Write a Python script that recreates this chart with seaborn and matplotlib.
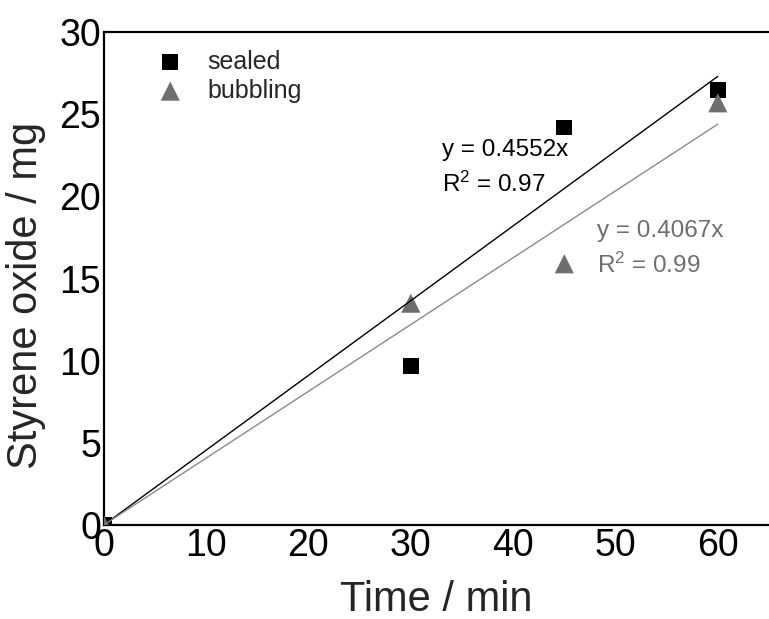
import matplotlib
matplotlib.use("Agg")
import matplotlib.pyplot as plt
import seaborn as sns
import pandas as pd
import numpy as np

time_min = [0, 30, 45, 60]
sealed = [0.0, 9.7, 24.2, 26.5]
bubbling = [0.0, 13.5, 15.9, 25.7]
slope_sealed = 0.4552
slope_bubbling = 0.4067
r2_sealed = 0.97
r2_bubbling = 0.99
x_ticks = [0, 10, 20, 30, 40, 50, 60]
y_ticks = [0, 5, 10, 15, 20, 25, 30]

sns.set_style("white")
plt.rcParams['font.family'] = ['Liberation Sans', 'DejaVu Sans']
plt.rcParams['mathtext.fontset'] = 'custom'
plt.rcParams['mathtext.rm'] = 'Liberation Sans'
plt.rcParams['mathtext.it'] = 'Liberation Sans'
plt.rcParams['mathtext.default'] = 'regular'

df = pd.DataFrame({
    "Time": time_min * 2,
    "Amount": sealed + bubbling,
    "Condition": ["sealed"] * 4 + ["bubbling"] * 4,
})

fig = plt.figure(figsize=(7.69, 6.19), dpi=100)
ax = fig.add_axes([0.135, 0.152, 0.865, 0.796])

colors = {"sealed": "black", "bubbling": "#6e6e6e"}
markers = {"sealed": "s", "bubbling": "^"}
sizes = {"sealed": 130, "bubbling": 190}
for cond in ["sealed", "bubbling"]:
    sub = df[df["Condition"] == cond]
    sns.scatterplot(data=sub, x="Time", y="Amount", color=colors[cond],
                    marker=markers[cond], s=sizes[cond], edgecolor="none",
                    label=cond, ax=ax, zorder=3)

fit_x = np.array([time_min[0], time_min[-1]], dtype=float)
sns.lineplot(x=fit_x, y=slope_sealed * fit_x, color="black", lw=1.0, ax=ax,
             zorder=4, legend=False)
sns.lineplot(x=fit_x, y=slope_bubbling * fit_x, color="#8a8a8a", lw=1.0, ax=ax,
             zorder=4, legend=False)

ax.text(33.0, 22.8, f"y = {slope_sealed}x", fontsize=17.5, color="black", va="center")
ax.text(33.0, 20.75, f"R$^2$ = {r2_sealed}", fontsize=17.5, color="black", va="center")
ax.text(48.2, 17.9, f"y = {slope_bubbling}x", fontsize=17.5, color="#6e6e6e", va="center")
ax.text(48.2, 15.8, f"R$^2$ = {r2_bubbling}", fontsize=17.5, color="#6e6e6e", va="center")

ax.set_xlim(0, 65)
ax.set_ylim(0, 30)
ax.set_xticks(x_ticks)
ax.set_yticks(y_ticks)
ax.tick_params(axis="both", length=0, labelsize=27, colors="black", pad=2)
ax.set_xlabel("Time / min", fontsize=30, labelpad=12)
ax.set_ylabel("Styrene oxide / mg", fontsize=30)
ax.yaxis.set_label_coords(-0.087, 0.465)

for side in ["top", "left", "bottom"]:
    ax.spines[side].set_visible(True)
    ax.spines[side].set_color("black")
    ax.spines[side].set_linewidth(1.6)
ax.spines["right"].set_visible(False)

leg = ax.legend(loc="upper left", bbox_to_anchor=(0.036, 1.0), frameon=False,
                fontsize=18, handletextpad=0.5, labelspacing=0.2,
                markerscale=1.0, borderaxespad=0.3)

fig.savefig("out.png", dpi=100)
